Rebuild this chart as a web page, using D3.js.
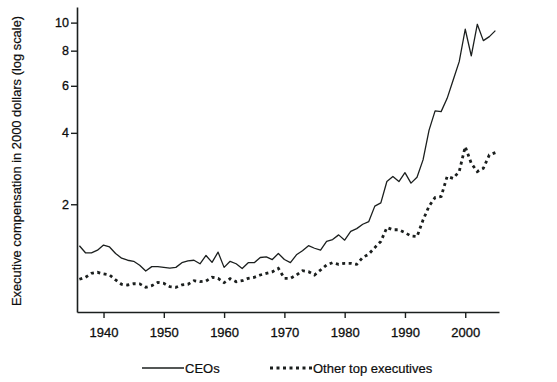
<!DOCTYPE html>
<html>
<head>
<meta charset="utf-8">
<script src="https://cdn.jsdelivr.net/npm/d3@7"></script>
<style>
  html, body { margin: 0; padding: 0; background: #fff; }
  svg { display: block; font-family: Arial, "Liberation Sans", sans-serif; }
</style>
</head>
<body>
<svg id="chart" width="557" height="382"></svg>
<script>
const years = d3.range(1936, 2006);
const ceoValues = [
  1.23, 1.12, 1.12, 1.16, 1.24, 1.21, 1.11, 1.04, 1.01, 0.995,
  0.94, 0.86, 0.92, 0.92, 0.91, 0.90, 0.91, 0.975, 1.0, 1.01,
  0.96, 1.08, 0.98, 1.13, 0.91, 0.995, 0.96, 0.895, 0.975, 0.975,
  1.05, 1.06, 1.02, 1.11, 1.02, 0.975, 1.09, 1.15, 1.23, 1.19,
  1.16, 1.30, 1.33, 1.41, 1.32, 1.47, 1.52, 1.60, 1.65, 1.96,
  2.03, 2.53, 2.66, 2.53, 2.76, 2.49, 2.64, 3.12, 4.10, 4.85,
  4.82, 5.40, 6.30, 7.32, 9.49, 7.67, 9.87, 8.67, 8.95, 9.39
];
const otherValues = [
  0.754, 0.779, 0.83, 0.844, 0.822, 0.809, 0.745, 0.692, 0.684, 0.70,
  0.697, 0.656, 0.675, 0.716, 0.704, 0.664, 0.656, 0.684, 0.692, 0.736,
  0.724, 0.733, 0.779, 0.766, 0.712, 0.761, 0.724, 0.736, 0.766, 0.779,
  0.809, 0.83, 0.85, 0.897, 0.766, 0.766, 0.809, 0.865, 0.852, 0.809,
  0.874, 0.943, 0.975, 0.952, 0.966, 0.966, 0.952, 1.05, 1.10, 1.20,
  1.30, 1.54, 1.50, 1.50, 1.45, 1.39, 1.38, 1.68, 1.96, 2.15,
  2.17, 2.66, 2.61, 2.79, 3.53, 3.02, 2.79, 2.88, 3.27, 3.34
];
const yTicks = [2, 4, 6, 8, 10];
const xTicks = [1940, 1950, 1960, 1970, 1980, 1990, 2000];
const seriesNames = ["CEOs", "Other top executives"];
const yTitle = "Executive compensation in 2000 dollars (log scale)";

const svg = d3.select("#chart");
const ink = "#1b1f1e";
const txt = "#0d0d0d";

const x = d3.scaleLinear().domain([1935.6, 2005.6]).range([77, 499]);
const y = d3.scaleSymlog().constant(1).domain([0.388, 11.3]).range([312, 7]);

// Axes
const yAxis = d3.axisLeft(y).tickValues(yTicks).tickFormat(d3.format("d"))
  .tickSize(6).tickSizeOuter(0).tickPadding(2);
const gy = svg.append("g").attr("transform", "translate(77,0)").call(yAxis);
const xAxis = d3.axisBottom(x).tickValues(xTicks).tickFormat(d3.format("d"))
  .tickSize(6).tickSizeOuter(0).tickPadding(10);
const gx = svg.append("g").attr("transform", "translate(0,312)").call(xAxis);

[gx, gy].forEach(g => {
  g.select(".domain").attr("stroke", ink).attr("stroke-width", 1.6);
  g.selectAll(".tick line").attr("stroke", ink).attr("stroke-width", 1.4);
  g.selectAll(".tick text").attr("fill", txt)
    .attr("stroke", txt).attr("stroke-width", 0.3)
    .style("font-family", "Arial, 'Liberation Sans', sans-serif");
});
gy.selectAll(".tick text").style("font-size", "12.5px");
gx.selectAll(".tick text").style("font-size", "13px");

// Y title
svg.append("text")
  .attr("transform", "translate(21,161) rotate(-90)")
  .attr("text-anchor", "middle")
  .attr("fill", txt)
  .attr("stroke", txt).attr("stroke-width", 0.2)
  .style("font-size", "12.9px")
  .text(yTitle);

// Lines
const line = vals => d3.line()
  .x((d, i) => x(years[i]))
  .y(d => y(d))(vals);

svg.append("path")
  .attr("d", line(ceoValues))
  .attr("fill", "none")
  .attr("stroke", ink)
  .attr("stroke-width", 1.3)
  .attr("stroke-linejoin", "round");

svg.append("path")
  .attr("d", line(otherValues))
  .attr("fill", "none")
  .attr("stroke", ink)
  .attr("stroke-width", 2.8)
  .attr("stroke-dasharray", "3 3.5");

// Legend
const lg = svg.append("g");
lg.append("line").attr("x1", 142).attr("x2", 184).attr("y1", 368).attr("y2", 368)
  .attr("stroke", ink).attr("stroke-width", 1.3);
lg.append("text").attr("x", 185).attr("y", 372.5).attr("fill", txt)
  .attr("stroke", txt).attr("stroke-width", 0.2)
  .style("font-size", "13px").text(seriesNames[0]);
lg.append("line").attr("x1", 270).attr("x2", 313).attr("y1", 368).attr("y2", 368)
  .attr("stroke", ink).attr("stroke-width", 2.8).attr("stroke-dasharray", "3 3.5");
lg.append("text").attr("x", 313).attr("y", 372.5).attr("fill", txt)
  .attr("stroke", txt).attr("stroke-width", 0.2)
  .style("font-size", "13px").text(seriesNames[1]);
</script>
</body>
</html>
